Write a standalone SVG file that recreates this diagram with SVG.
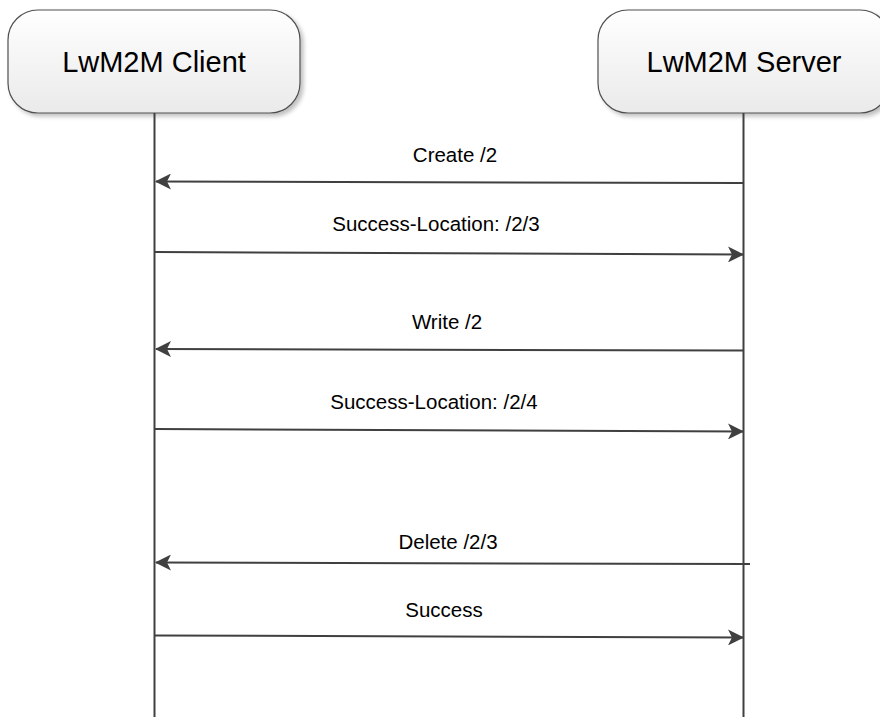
<svg xmlns="http://www.w3.org/2000/svg" width="880" height="717" viewBox="0 0 880 717">
<defs>
<linearGradient id="boxfill" x1="0" y1="0" x2="0" y2="1">
<stop offset="0" stop-color="#ffffff"/>
<stop offset="1" stop-color="#eaeaea"/>
</linearGradient>
<filter id="shadow" x="-10%" y="-10%" width="130%" height="130%">
<feGaussianBlur in="SourceAlpha" stdDeviation="2"/>
<feOffset dx="3" dy="3" result="b"/>
<feComponentTransfer><feFuncA type="linear" slope="0.25"/></feComponentTransfer>
<feMerge><feMergeNode/><feMergeNode in="SourceGraphic"/></feMerge>
</filter>
<marker id="arrow" viewBox="0 0 16 16" refX="15" refY="8" markerWidth="16" markerHeight="16" markerUnits="userSpaceOnUse" orient="auto">
<path d="M0,0 L16,8 L0,16 L4,8 Z" fill="#404040"/>
</marker>
</defs>
<style>
.box{fill:url(#boxfill);stroke:#505050;stroke-width:1.2;filter:url(#shadow)}
.title{font-family:"Liberation Sans",Arial,sans-serif;font-size:29px;fill:#000;text-anchor:middle}
.life{stroke:#404040;stroke-width:2;fill:none}
.msg{stroke:#404040;stroke-width:2;fill:none;marker-end:url(#arrow)}
.lbl{font-family:"Liberation Sans",Arial,sans-serif;font-size:20.5px;fill:#000;text-anchor:middle}
</style>
<rect width="880" height="717" fill="#ffffff"/>
<g id="client">
<rect class="box" x="8" y="10" width="292" height="103" rx="30" ry="30"/>
<text class="title" x="154" y="72">LwM2M Client</text>
</g>
<g id="server">
<rect class="box" x="598" y="10" width="292" height="103" rx="30" ry="30"/>
<text class="title" x="744" y="72">LwM2M Server</text>
</g>
<g id="connectors">
<line class="life" x1="154.5" y1="113" x2="154.5" y2="717"/>
<line class="life" x1="743.5" y1="113" x2="743.5" y2="717"/>
<line class="msg" x1="743" y1="183" x2="156" y2="181.5"/>
<line class="msg" x1="155" y1="252" x2="743" y2="254.5"/>
<line class="msg" x1="743" y1="350.5" x2="156" y2="349"/>
<line class="msg" x1="155" y1="429" x2="743" y2="431.5"/>
<line class="msg" x1="750" y1="564" x2="156" y2="562.5"/>
<line class="msg" x1="155" y1="635.5" x2="743" y2="637.5"/>
</g>
<g id="labels">
<text class="lbl" x="455" y="162">Create /2</text>
<text class="lbl" x="436" y="231">Success-Location: /2/3</text>
<text class="lbl" x="447" y="329">Write /2</text>
<text class="lbl" x="434" y="409">Success-Location: /2/4</text>
<text class="lbl" x="448" y="549">Delete /2/3</text>
<text class="lbl" x="444" y="617">Success</text>
</g>
</svg>
